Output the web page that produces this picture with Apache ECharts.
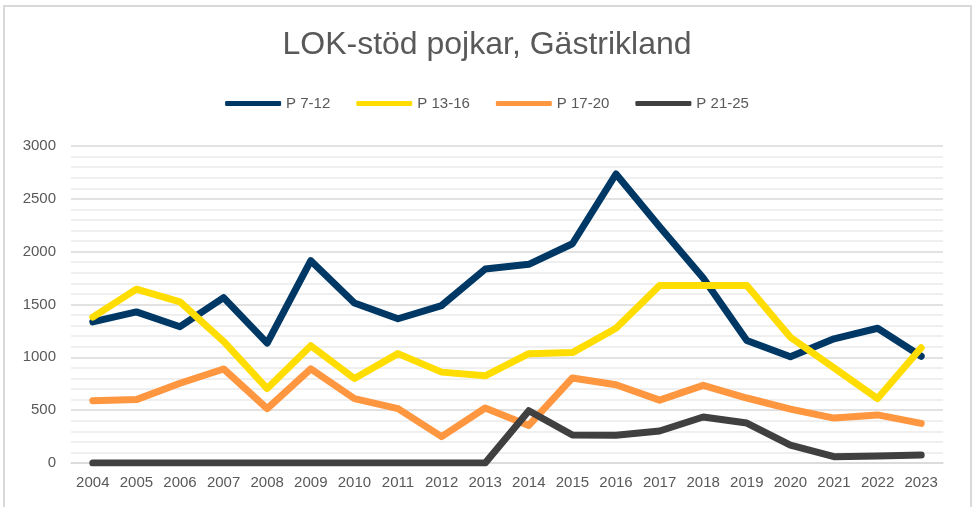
<!DOCTYPE html>
<html>
<head>
<meta charset="utf-8">
<script src="https://cdn.jsdelivr.net/npm/echarts@6/dist/echarts.min.js"></script>
<style>
  html, body { margin: 0; padding: 0; background: #fff; }
  #chart { width: 974px; height: 507px; }
</style>
</head>
<body>
<div id="chart"></div>
<script>
const years = ['2004', '2005', '2006', '2007', '2008', '2009', '2010', '2011', '2012', '2013',
  '2014', '2015', '2016', '2017', '2018', '2019', '2020', '2021', '2022', '2023']
const p7_12 = [1335, 1430, 1290, 1565, 1135, 1915, 1515, 1365, 1490, 1835,
  1880, 2075, 2735, 2235, 1750, 1160, 1005, 1175, 1275, 1010]
const p13_16 = [1380, 1645, 1525, 1150, 705, 1110, 800, 1035, 860, 825,
  1035, 1045, 1275, 1680, 1680, 1680, 1190, 900, 610, 1090]
const p17_20 = [590, 600, 755, 890, 515, 890, 610, 515, 250, 520,
  355, 805, 740, 595, 735, 615, 510, 425, 455, 375]
const p21_25 = [0, 0, 0, 0, 0, 0, 0, 0, 0, 0,
  495, 265, 262, 303, 435, 378, 170, 60, 66, 76]

const names = ['P 7-12', 'P 13-16', 'P 17-20', 'P 21-25']
const colors = ['#003865', '#FFDD00', '#FF9640', '#404040']
const values = [p7_12, p13_16, p17_20, p21_25]

const chart = echarts.init(document.getElementById('chart'))
const textColor = '#595959'
const font = '"Liberation Sans", Arial, sans-serif'

chart.setOption({
  animation: false,
  color: colors,
  title: {
    text: 'LOK-stöd pojkar, Gästrikland',
    left: 'center',
    top: 24,
    textStyle: { fontSize: 32, fontWeight: 'normal', color: textColor, fontFamily: font },
  },
  legend: {
    top: 91,
    left: 'center',
    itemWidth: 56,
    itemHeight: 5,
    itemGap: 26,
    icon: 'roundRect',
    textStyle: { fontSize: 15, color: textColor, fontFamily: font },
    data: names,
  },
  graphic: [{
    type: 'rect',
    shape: { x: 4, y: 6, width: 967, height: 540 },
    style: { fill: 'none', stroke: '#d9d9d9', lineWidth: 2 },
    silent: true,
  }],
  grid: { left: 71, right: 31, top: 146, bottom: 44 },
  xAxis: {
    type: 'category',
    data: years,
    boundaryGap: true,
    axisLine: { show: true, lineStyle: { color: '#d9d9d9', width: 1.5 } },
    axisTick: { show: false },
    axisLabel: { color: textColor, fontSize: 15, fontFamily: font, margin: 12 },
  },
  yAxis: {
    type: 'value',
    min: 0,
    max: 3000,
    interval: 500,
    axisLine: { show: false },
    axisTick: { show: false },
    axisLabel: { color: textColor, fontSize: 15, fontFamily: font, margin: 15, formatter: v => String(v) },
    splitLine: { lineStyle: { color: '#d9d9d9', width: 1.5 } },
    minorTick: { show: false, splitNumber: 5 },
    minorSplitLine: { show: true, lineStyle: { color: '#efefef', width: 2 } },
  },
  series: names.map((n, i) => ({
    name: n,
    type: 'line',
    data: values[i],
    symbol: 'none',
    lineStyle: { width: 7, cap: 'round', join: 'round' },
  })),
})
</script>
</body>
</html>
